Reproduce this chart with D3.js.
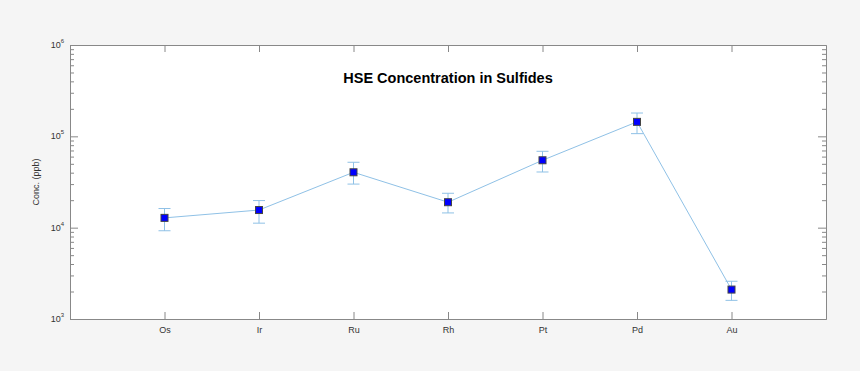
<!DOCTYPE html>
<html>
<head>
<meta charset="utf-8">
<script src="https://cdn.jsdelivr.net/npm/d3@7"></script>
<style>
  body { margin: 0; background: #f5f5f5; }
  svg { display: block; }
</style>
</head>
<body>
<script>
const elements = ['Os', 'Ir', 'Ru', 'Rh', 'Pt', 'Pd', 'Au']
const conc = [12800, 15600, 40400, 19000, 54700, 144000, 2100]
const errLow = [9250, 11200, 30000, 14500, 40700, 107000, 1600]
const errHigh = [16200, 19800, 52000, 23800, 68600, 180000, 2590]
const yTicks = [1e3, 1e4, 1e5, 1e6]

const width = 860
const height = 371
const m = { top: 45, right: 34, bottom: 52, left: 70 }

const svg = d3.select('body')
  .append('svg')
  .attr('width', width)
  .attr('height', height)
  .style('font-family', 'Liberation Sans, Arial, sans-serif')

const x = d3.scaleLinear()
  .domain([0, elements.length + 1])
  .range([m.left, width - m.right])

const y = d3.scaleLog()
  .domain([1e3, 1e6])
  .range([height - m.bottom, m.top])

// plot area
svg.append('rect')
  .attr('x', m.left)
  .attr('y', m.top)
  .attr('width', width - m.left - m.right)
  .attr('height', height - m.top - m.bottom)
  .attr('fill', '#fff')

const axisColor = '#888'

// minor and major ticks on left and right
let minor = []
for (let d = 3; d < 6; d++) {
  for (let k = 2; k <= 9; k++) minor.push(k * Math.pow(10, d))
}

const leftAxis = d3.axisLeft(y).tickValues(yTicks).tickSizeInner(-8).tickSizeOuter(0).tickFormat('')
const rightAxis = d3.axisRight(y).tickValues(yTicks).tickSizeInner(-8).tickSizeOuter(0).tickFormat('')
const leftMinor = d3.axisLeft(y).tickValues(minor).tickSizeInner(-4).tickSizeOuter(0).tickFormat('')
const rightMinor = d3.axisRight(y).tickValues(minor).tickSizeInner(-4).tickSizeOuter(0).tickFormat('')

svg.append('g').attr('transform', `translate(${m.left},0)`).call(leftMinor)
svg.append('g').attr('transform', `translate(${width - m.right},0)`).call(rightMinor)
svg.append('g').attr('transform', `translate(${m.left},0)`).call(leftAxis)
svg.append('g').attr('transform', `translate(${width - m.right},0)`).call(rightAxis)

const xTicks = elements.map((e, i) => i + 1)
const bottomAxis = d3.axisBottom(x).tickValues(xTicks).tickSizeInner(-7).tickSizeOuter(0)
  .tickFormat((d) => elements[d - 1])
const topAxis = d3.axisTop(x).tickValues(xTicks).tickSizeInner(-7).tickSizeOuter(0).tickFormat('')

svg.append('g').attr('class', 'xb').attr('transform', `translate(0,${height - m.bottom})`).call(bottomAxis)
svg.append('g').attr('transform', `translate(0,${m.top})`).call(topAxis)

svg.selectAll('.domain, .tick line')
  .attr('stroke', axisColor)
  .attr('stroke-width', 1)

svg.selectAll('.xb .tick text')
  .attr('y', 8)
  .attr('fill', '#333')
  .style('font-size', '9px')

// y tick labels with exponents
const yl = svg.append('g')
  .selectAll('text')
  .data(yTicks)
  .enter()
  .append('text')
  .attr('x', m.left - 6)
  .attr('y', (d) => y(d) + 3)
  .attr('text-anchor', 'end')
  .attr('fill', '#333')
  .style('font-size', '9px')
yl.append('tspan').text('10')
yl.append('tspan')
  .attr('dy', -5)
  .style('font-size', '6px')
  .text((d) => Math.round(Math.log10(d)))

// y label
svg.append('text')
  .attr('transform', `translate(39,${(m.top + height - m.bottom) / 2}) rotate(-90)`)
  .attr('text-anchor', 'middle')
  .attr('fill', '#333')
  .style('font-size', '9px')
  .text('Conc. (ppb)')

// title
svg.append('text')
  .attr('x', (m.left + width - m.right) / 2)
  .attr('y', 83)
  .attr('text-anchor', 'middle')
  .style('font-size', '14.5px')
  .style('font-weight', 'bold')
  .text('HSE Concentration in Sulfides')

const lineColor = '#8fc1e6'

// error bars
const eb = svg.append('g')
  .selectAll('g')
  .data(elements)
  .enter()
  .append('g')
  .attr('stroke', lineColor)
  .attr('stroke-width', 1)

eb.append('line')
  .attr('x1', (d, i) => x(i + 1))
  .attr('x2', (d, i) => x(i + 1))
  .attr('y1', (d, i) => y(errLow[i]))
  .attr('y2', (d, i) => y(errHigh[i]))
eb.append('line')
  .attr('x1', (d, i) => x(i + 1) - 6)
  .attr('x2', (d, i) => x(i + 1) + 6)
  .attr('y1', (d, i) => y(errLow[i]))
  .attr('y2', (d, i) => y(errLow[i]))
eb.append('line')
  .attr('x1', (d, i) => x(i + 1) - 6)
  .attr('x2', (d, i) => x(i + 1) + 6)
  .attr('y1', (d, i) => y(errHigh[i]))
  .attr('y2', (d, i) => y(errHigh[i]))

// line
const line = d3.line()
  .x((d, i) => x(i + 1))
  .y((d) => y(d))

svg.append('path')
  .datum(conc)
  .attr('d', line)
  .attr('fill', 'none')
  .attr('stroke', lineColor)
  .attr('stroke-width', 1)

// markers
svg.append('g')
  .selectAll('rect')
  .data(conc)
  .enter()
  .append('rect')
  .attr('x', (d, i) => x(i + 1) - 3.5)
  .attr('y', (d) => y(d) - 3.5)
  .attr('width', 7)
  .attr('height', 7)
  .attr('fill', '#0000ff')
  .attr('stroke', '#444')
  .attr('stroke-width', 1)
</script>
</body>
</html>
